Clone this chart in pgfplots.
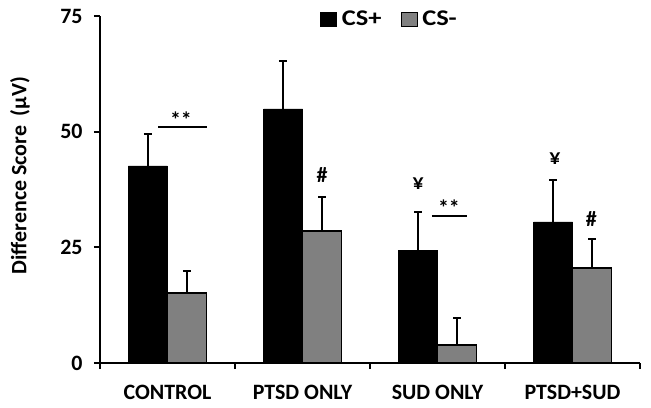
\documentclass[border=0pt]{standalone}
\usepackage{fontspec}
\setmainfont{Carlito}
\newfontfamily\legf[FakeStretch=1.18]{Carlito}
\usepackage{pgfplots}
\pgfplotsset{compat=1.18}
\definecolor{barg}{RGB}{128,128,128}
\newcommand{\bigf}{\fontsize{22}{26}\selectfont\bfseries}
\newcommand{\legfont}{\fontsize{22.5}{26}\legf\bfseries}
\begin{document}
\begin{tikzpicture}
\begin{axis}[
  scale only axis, width=540bp, height=347bp,
  xmin=-0.5, xmax=3.5, ymin=0, ymax=75,
  axis lines*=left,
  axis line style={line width=1.8bp, black},
  xtick={-0.5,0.5,1.5,2.5,3.5}, xticklabels={},
  extra x ticks={0,1,2,3},
  extra x tick labels={CONTROL,PTSD ONLY,SUD ONLY,PTSD+SUD},
  extra x tick style={major tick length=0pt, tick style={draw=none}},
  ytick={0,25,50,75},
  tick align=outside, major tick length=6bp,
  tick style={line width=1.8bp, black},
  /pgf/number format/assume math mode=true,
  yticklabel style={font=\bigf, xshift=-8bp},
  xticklabel style={font=\bigf, yshift=-19bp},
  ylabel={Difference Score\ \ (μV)},
  ylabel style={font=\bigf, at={(axis description cs:-0.148,0.54)}, anchor=center},
  ybar, bar width=39bp,
  legend style={draw=none, fill=none, at={(0.536,0.991)}, anchor=center,
    font=\legfont, inner sep=0pt,
    /tikz/every odd column/.append style={column sep=3bp},
    /tikz/every even column/.append style={column sep=17bp}},
  legend columns=2,
  legend image code/.code={\draw[#1, line width=0.8bp] (0bp,-7bp) rectangle (16bp,7bp);},
  clip=false,
]
\addplot[fill=black, draw=black, bar shift=-19.5bp,
  error bars/.cd, y dir=plus, y explicit, error mark=|,
  error bar style={line width=2bp, black},
  error mark options={black, line width=2bp, mark size=4bp}]
  coordinates {(0,42.6) +- (0,6.8) (1,54.9) +- (0,10.4) (2,24.4) +- (0,8.3) (3,30.5) +- (0,9.0)};
\addlegendentry{\legfont CS+}
\addplot[fill=barg, draw=black, line width=1.5bp, bar shift=19.5bp,
  error bars/.cd, y dir=plus, y explicit, error mark=|,
  error bar style={line width=2bp, black},
  error mark options={black, line width=2bp, mark size=4bp}]
  coordinates {(0,15.1) +- (0,4.8) (1,28.5) +- (0,7.4) (2,3.9) +- (0,5.8) (3,20.5) +- (0,6.2)};
\addlegendentry{\legfont CS-}
% annotations
\draw[line width=1.8bp] (axis cs:-0.07,51.0) -- (axis cs:0.293,51.0);
\node[font=\bigf, anchor=base] at (axis cs:0.10,51.0) {**};
\node[font=\bigf, anchor=base] at (axis cs:1.145,39.0) {\#};
\node[font=\bigf, anchor=base] at (axis cs:1.856,37.6) {¥};
\draw[line width=1.8bp] (axis cs:1.959,31.8) -- (axis cs:2.219,31.8);
\node[font=\bigf, anchor=base] at (axis cs:2.085,31.8) {**};
\node[font=\bigf, anchor=base] at (axis cs:2.87,42.9) {¥};
\node[font=\bigf, anchor=base] at (axis cs:3.14,29.5) {\#};
\coordinate (O) at (rel axis cs:0,0);
\end{axis}
\pgfresetboundingbox
\path ([shift={(-100bp,-45bp)}]O) rectangle ([shift={(551bp,363bp)}]O);
\end{tikzpicture}
\end{document}
